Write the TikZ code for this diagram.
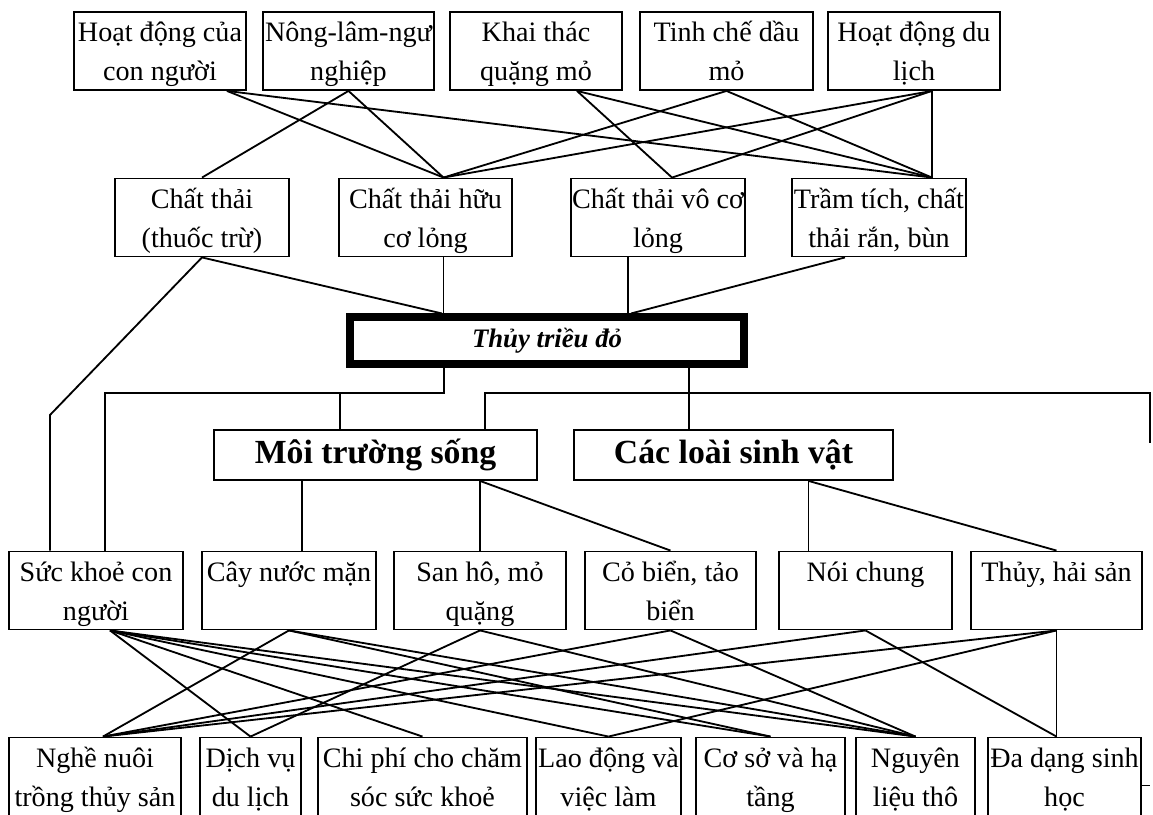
\documentclass[tikz,border=0pt]{standalone}
\usepackage{fontspec}
\setmainfont{Liberation Serif}
\usetikzlibrary{calc}
\newcommand{\pxu}{0.025cm}
\newcommand{\twoline}[2]{\rule{0pt}{21pt}#1\\#2\rule[-6.5pt]{0pt}{6.5pt}}

\begin{document}
\begin{tikzpicture}[x=0.025cm, y=-0.025cm, line width=1.3pt,
	every node/.style={draw=black, line width=1.3pt, rectangle, inner sep=0pt, align=center, font=\fontsize{20}{28}\selectfont},
	box/.style={minimum height=77*\pxu},
	wd/.style={minimum width=#1*\pxu}]
			\useasboundingbox (0,0) rectangle (1153,815);
			
			\node[box, wd=172] (t1) at (160,51){\twoline{Hoạt động của}{con người}};
			\node[box, wd=171] (t2) at (348.5,51){\twoline{Nông-lâm-ngư}{nghiệp}};
			\node[box, wd=172] (t3) at (536,51){\twoline{Khai thác}{quặng mỏ}};
			\node[box, wd=173] (t4) at (726.5,51){\twoline{Tinh chế dầu}{mỏ}};
			\node[box, wd=172] (t5) at (914,51){\twoline{Hoạt động du}{lịch}};
			
			\node[box, wd=174] (s1) at (202,217.5){\twoline{Chất thải}{(thuốc trừ)}};
			\node[box, wd=173] (s2) at (425.5,217.5){\twoline{Chất thải hữu}{cơ lỏng}};
			\node[box, wd=174] (s3) at (658,217.5){\twoline{Chất thải vô cơ}{lỏng}};
			\node[box, wd=174] (s4) at (879,217.5){\twoline{Trầm tích, chất}{thải rắn, bùn}};
			
			\node[wd=394, minimum height=47*\pxu, line width=5pt, font=\fontsize{19}{22}\selectfont\bfseries\itshape] (ttd) at (547,340.5){Thủy triều đỏ};
			
			\node[wd=323, minimum height=50*\pxu, font=\fontsize{24}{28}\selectfont\bfseries] (mts) at (375.5,455){Môi trường sống};
			\node[wd=319, minimum height=50*\pxu, font=\fontsize{24}{28}\selectfont\bfseries] (clsv) at (733.5,455){Các loài sinh vật};
			
			\node[box, wd=174] (h1) at (96,590.5){\twoline{Sức khoẻ con}{người}};
			\node[box, wd=174] (h2) at (289,590.5){\twoline{Cây nước mặn}{}};
			\node[box, wd=172] (h3) at (480,590.5){\twoline{San hô, mỏ}{quặng}};
			\node[box, wd=171] (h4) at (670.5,590.5){\twoline{Cỏ biển, tảo}{biển}};
			\node[box, wd=173] (h5) at (865.5,590.5){\twoline{Nói chung}{}};
			\node[box, wd=171] (h6) at (1056.5,590.5){\twoline{Thủy, hải sản}{}};
			
			\node[box, wd=172] (b1) at (95,776.5){\twoline{Nghề nuôi}{trồng thủy sản}};
			\node[box, wd=101] (b2) at (250.5,776.5){\twoline{Dịch vụ}{du lịch}};
			\node[box, wd=209] (b3) at (422.5,776.5){\twoline{Chi phí cho chăm}{sóc sức khoẻ}};
			\node[box, wd=145] (b4) at (608.5,776.5){\twoline{Lao động và}{việc làm}};
			\node[box, wd=149] (b5) at (770.5,776.5){\twoline{Cơ sở và hạ}{tầng}};
			\node[box, wd=119] (b6) at (915.5,776.5){\twoline{Nguyên}{liệu thô}};
			\node[box, wd=153] (b7) at (1064.5,776.5){\twoline{Đa dạng sinh}{học}};
			
			\coordinate (t1o) at ($(t1.south)+(67,0)$);
			\coordinate (t3o) at ($(t3.south)+(41,0)$);
			\coordinate (t5o) at ($(t5.south)+(18,0)$);
			\coordinate (s2i) at ($(s2.north)+(18,0)$);
			\coordinate (s3i) at ($(s3.north)+(14,0)$);
			\coordinate (s4i) at (t5o |- s4.north);
			
			\path (t1o) edge (s2i) edge (s4i);
			\path (t2.south) edge (s1.north) edge (s2i);
			\path (t3o) edge (s3i) edge (s4i);
			\path (t4.south) edge (s2i) edge (s4i);
			\path (t5o) edge (s2i) edge (s3i) edge (s4i);
			
			\coordinate (ttdl) at ($(ttd.north)+(-105,0)$);
			\coordinate (ttdr) at ($(ttd.north)+(84,0)$);
			\coordinate (s2o) at ($(s2.south)+(18,0)$);
			\coordinate (s3o) at ($(s3.south)+(-30,0)$);
			\coordinate (s4o) at ($(s4.south)+(-34,0)$);
			\path (s1.south) edge (ttdl);
			\path (s2o) edge (s2o |- ttd.north);
			\path (s3o) edge (s3o |- ttd.north);
			\path (s4o) edge (ttdr);
			
			\coordinate (kink) at (50,415);
			\draw (s1.south) -- (kink) -- (kink |- h1.north);
			
			\coordinate (ttdbl) at ($(ttd.south)+(-103,0)$);
			\coordinate (ttdbr) at ($(ttd.south)+(142,0)$);
			\coordinate (jl) at (105,393);
			\coordinate (jm) at (340,393);
			\coordinate (jr) at (485,393);
			\coordinate (rim) at (1150,393);
			\draw (ttdbl) |- (jl) -- (jl |- h1.north);
			\draw (jm) -- (jm |- mts.north);
			\draw (ttdbr) -- (ttdbr |- clsv.north);
			\draw (jr |- mts.north) -- (jr) -- (rim) -- ++(0,50);
			
			\coordinate (h2i) at ($(h2.north)+(13,0)$);
			\coordinate (mtso) at (mts.south -| h3.north);
			\coordinate (h5i) at ($(h5.north)+(-57,0)$);
			\coordinate (clsvo) at (h5i |- clsv.south);
			\path (h2i) edge (h2i |- mts.south);
			\path (mtso) edge (h3.north) edge (h4.north);
			\path (clsvo) edge (h5i) edge (h6.north);
			
			\coordinate (h1o) at ($(h1.south)+(14,0)$);
			\coordinate (b1i) at ($(b1.north)+(8,0)$);
			\coordinate (b7i) at ($(b7.north)+(-8,0)$);
			\path (h1o) edge (b2.north) edge (b3.north) edge (b4.north) edge (b5.north) edge (b6.north);
			\path (h2.south) edge (b1i) edge (b5.north) edge (b6.north);
			\path (h3.south) edge (b2.north) edge (b6.north);
			\path (h4.south) edge (b1i) edge (b6.north);
			\path (h5.south) edge (b1i) edge (b7i);
			\path (h6.south) edge (b1i) edge (b4.north) edge (b7i);
			
			\coordinate (b7r) at ($(b7.east)+(0,9)$);
			\draw (b7r) -- (b7r -| rim);
			\end{tikzpicture}
\end{document}
